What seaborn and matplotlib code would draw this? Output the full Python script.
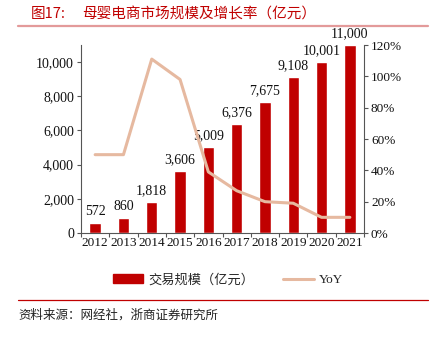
import matplotlib
matplotlib.use("Agg")
import matplotlib.pyplot as plt
import seaborn as sns
import pandas as pd
import numpy as np
from matplotlib.lines import Line2D
from matplotlib.patches import Patch
from matplotlib.ticker import FuncFormatter, FixedLocator

years = ["2012", "2013", "2014", "2015", "2016", "2017", "2018", "2019", "2020", "2021"]
scale = [572, 860, 1818, 3606, 5009, 6376, 7675, 9108, 10001, 11000]
yoy = [0.50, 0.50, 1.11, 0.98, 0.39, 0.27, 0.20, 0.19, 0.10, 0.10]
title_num = "图17:"
title_txt = "母婴电商市场规模及增长率（亿元）"
source_txt = "资料来源：网经社，浙商证券研究所"
bar_label = "交易规模（亿元）"
line_label = "YoY"

sns.set_theme(style="white")
plt.rcParams['font.family'] = ['Liberation Serif', 'Noto Sans CJK SC', 'DejaVu Sans']

df = pd.DataFrame({"year": years, "scale": scale, "yoy": yoy})

BAR = "#C00000"
LINE = "#E6B9A0"

fig = plt.figure(figsize=(4.32, 3.37), dpi=100)
ax = fig.add_axes([81/432, 1-233/337, (364-81)/432, (233-45)/337])
sns.barplot(data=df, x="year", y="scale", color=BAR, width=0.4, ax=ax, saturation=1)
ax.set_xlim(-0.5, 9.5)
ax.set_ylim(0, 11000)
ax.set_yticks([0, 2000, 4000, 6000, 8000, 10000])
ax.yaxis.set_major_formatter(FuncFormatter(lambda v, p: f"{int(v):,}"))
ax.set_xlabel("")
ax.set_ylabel("")
for i, v in enumerate(scale):
    ax.text(i, v + 300, f"{v:,}", ha="center", va="bottom", fontsize=10,
            family="Liberation Serif", color="#111111")

ax2 = ax.twinx()
sns.lineplot(x=np.arange(len(years)), y=yoy, ax=ax2, color=LINE, linewidth=2.2)
ax2.set_ylim(0, 1.2)
ax2.set_yticks(np.arange(0, 1.21, 0.2))
ax2.yaxis.set_major_formatter(FuncFormatter(lambda v, p: f"{v*100:.0f}%"))
ax2.set_xlim(-0.5, 9.5)

for a in (ax, ax2):
    for s in a.spines.values():
        s.set_visible(False)
ax.spines['left'].set_visible(True)
ax.spines['bottom'].set_visible(True)
ax2.spines['right'].set_visible(True)
for s in (ax.spines['left'], ax.spines['bottom'], ax2.spines['right']):
    s.set_color("#555555")
    s.set_linewidth(0.8)

ax.tick_params(axis='y', which='major', direction='out', length=3, width=0.8,
               color="#555555", labelsize=10, pad=2, left=True)
ax.tick_params(axis='x', which='major', length=0, labelsize=9.5, pad=3)
ax.xaxis.set_minor_locator(FixedLocator(np.arange(-0.5, 10, 1.0)))
ax.tick_params(axis='x', which='minor', direction='out', length=3, width=0.8,
               color="#555555", bottom=True)
ax2.tick_params(axis='y', direction='out', length=3, width=0.8, color="#555555",
                labelsize=9.5, pad=2, right=True)
for lab in ax.get_xticklabels() + ax.get_yticklabels() + ax2.get_yticklabels():
    lab.set_color("#111111")
ax.grid(False)
ax2.grid(False)

# Title
fig.text(31/432, 1-14/337, title_num, fontsize=10.5, color="#C00000",
         family=['Noto Sans CJK SC'], va="center", ha="left")
fig.text(82/432, 1-14/337, title_txt, fontsize=10.5, color="#C00000",
         family=['Noto Sans CJK SC'], va="center", ha="left")
fig.add_artist(Line2D([18/432, 428/432], [1-26/337, 1-26/337], color="#E39A9A",
                      linewidth=1.6, transform=fig.transFigure))

# Legend
handles = [Patch(facecolor=BAR, edgecolor=BAR, label=bar_label),
           Line2D([0], [0], color=LINE, linewidth=2.2, label=line_label)]
leg = fig.legend(handles=handles, loc="center", bbox_to_anchor=(0.528, 1-280/337),
                 ncol=2, frameon=False, handlelength=2.3,
                 handleheight=0.6, columnspacing=2.2, handletextpad=0.4,
                 prop={'family': ['Liberation Serif', 'Noto Sans CJK SC'], 'size': 9.5})

fig.add_artist(Line2D([18/432, 428/432], [1-300/337, 1-300/337], color="#C00000",
                      linewidth=0.9, transform=fig.transFigure))
fig.text(18/432, 1-315/337, source_txt, fontsize=9, color="#222222",
         family=['Noto Sans CJK SC'], va="center", ha="left")

fig.savefig("out.png", dpi=100)
